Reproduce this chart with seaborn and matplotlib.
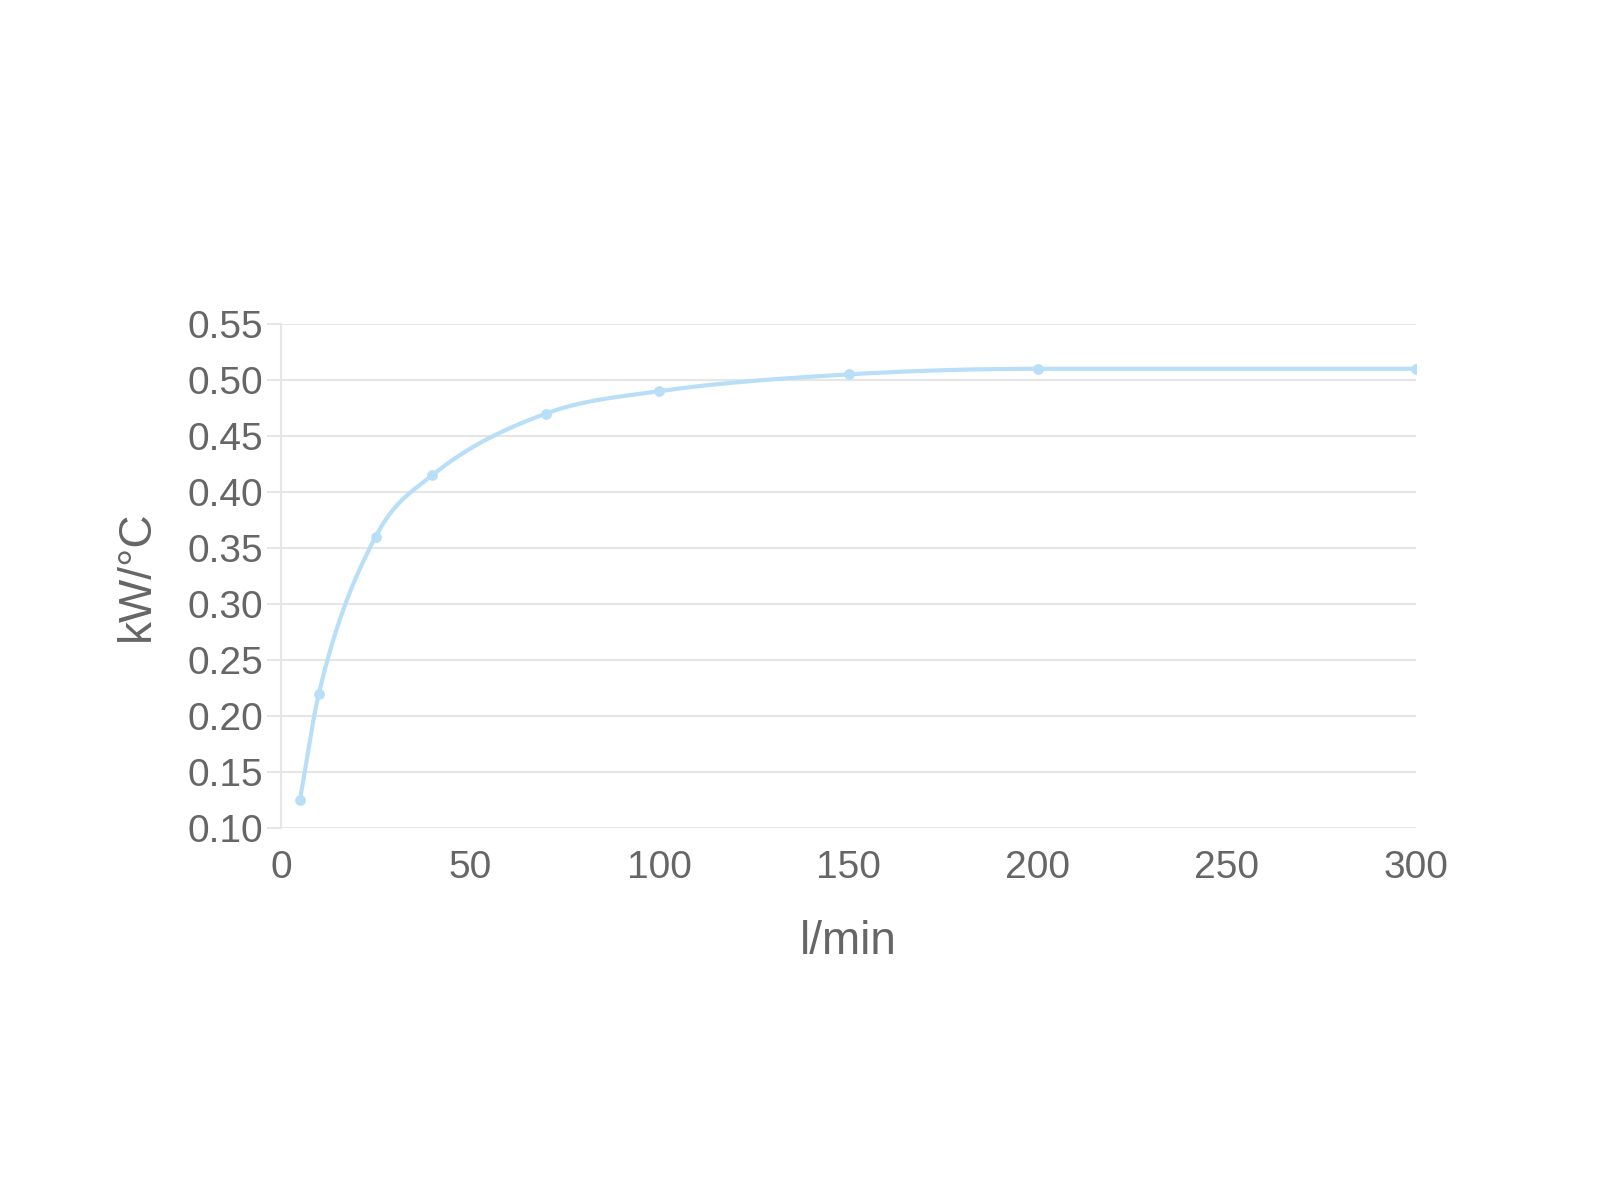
import numpy as np
import pandas as pd
import matplotlib
matplotlib.use("Agg")
import matplotlib.pyplot as plt
import seaborn as sns

# ---- data ----
flow_lpm = [5, 10, 25, 40, 70, 100, 150, 200, 300]
kw_per_c = [0.125, 0.22, 0.36, 0.415, 0.47, 0.49, 0.505, 0.51, 0.51]
x_ticks = [0, 50, 100, 150, 200, 250, 300]
y_ticks = [0.10, 0.15, 0.20, 0.25, 0.30, 0.35, 0.40, 0.45, 0.50, 0.55]
x_label = "l/min"
y_label = "kW/°C"

LINE = "#b8dff7"
GRID = "#e6e6e6"
TEXT = "#666666"


def monotone_curve(x, y, n=60):
    """Monotone cubic (Fritsch-Carlson) path through the points, for drawing."""
    x = np.asarray(x, float)
    y = np.asarray(y, float)
    h = np.diff(x)
    d = np.diff(y) / h
    m = np.zeros_like(y)
    m[0], m[-1] = d[0], d[-1]
    for i in range(1, len(y) - 1):
        if d[i - 1] * d[i] <= 0:
            m[i] = 0
        else:
            m[i] = (d[i - 1] + d[i]) / 2
    for i in range(len(d)):
        if d[i] == 0:
            m[i] = m[i + 1] = 0
        else:
            a, b = m[i] / d[i], m[i + 1] / d[i]
            s = a * a + b * b
            if s > 9:
                t = 3 / np.sqrt(s)
                m[i] = t * a * d[i]
                m[i + 1] = t * b * d[i]
    xs, ys = [], []
    for i in range(len(h)):
        t = np.linspace(0, 1, n, endpoint=(i == len(h) - 1))
        h00 = 2 * t**3 - 3 * t**2 + 1
        h10 = t**3 - 2 * t**2 + t
        h01 = -2 * t**3 + 3 * t**2
        h11 = t**3 - t**2
        xs.append(x[i] + t * h[i])
        ys.append(h00 * y[i] + h10 * h[i] * m[i] + h01 * y[i + 1] + h11 * h[i] * m[i + 1])
    return np.concatenate(xs), np.concatenate(ys)


sns.set_theme(style="white")
plt.rcParams["font.family"] = ["Liberation Sans", "DejaVu Sans"]

fig = plt.figure(figsize=(16, 12), dpi=100)
fig.patch.set_facecolor("white")
ax = fig.add_axes([281 / 1600, 1 - 828 / 1200, (1416 - 281) / 1600, (828 - 324) / 1200])

cx, cy = monotone_curve(flow_lpm, kw_per_c)
curve = pd.DataFrame({"x": cx, "y": cy})
pts = pd.DataFrame({"x": flow_lpm, "y": kw_per_c})

sns.lineplot(data=curve, x="x", y="y", ax=ax, color=LINE, linewidth=3.0,
             estimator=None, sort=False, zorder=3)
sns.scatterplot(data=pts, x="x", y="y", ax=ax, color=LINE, s=60,
                edgecolor=LINE, linewidth=0, zorder=4)

ax.set_xlim(0, 300)
ax.set_ylim(0.10, 0.55)
ax.set_xticks(x_ticks)
ax.set_yticks(y_ticks)
ax.set_xticklabels([str(v) for v in x_ticks])
ax.set_yticklabels([f"{v:.2f}" for v in y_ticks])

ax.yaxis.grid(True, color=GRID, linewidth=1.5)
ax.xaxis.grid(False)
ax.set_axisbelow(True)
for s in ["top", "right", "bottom"]:
    ax.spines[s].set_visible(False)
ax.spines["left"].set_color(GRID)
ax.spines["left"].set_linewidth(1.5)

ax.tick_params(axis="y", length=10, width=1.5, color=GRID, pad=3,
               labelsize=28, labelcolor=TEXT, left=True)
ax.tick_params(axis="x", length=0, pad=16, labelsize=28, labelcolor=TEXT)

ax.set_xlabel(x_label, fontsize=33, color=TEXT)
ax.set_ylabel(y_label, fontsize=33, color=TEXT)
ax.xaxis.set_label_coords(0.5, -0.182)
ax.yaxis.set_label_coords(-0.108, 0.5)

fig.savefig("out.png", dpi=100, facecolor="white")
